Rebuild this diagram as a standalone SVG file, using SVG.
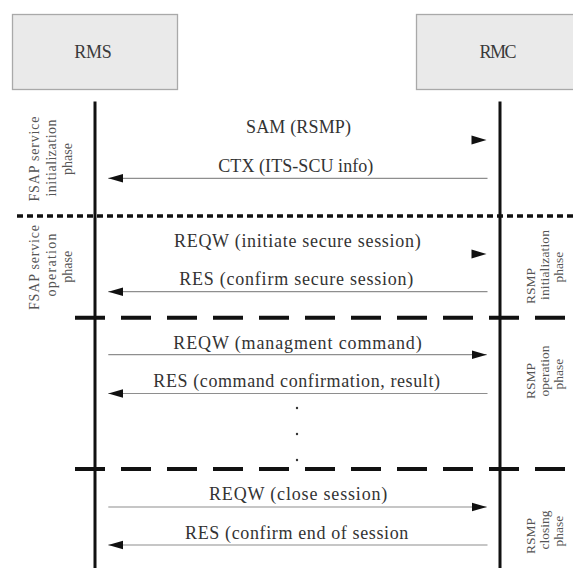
<svg xmlns="http://www.w3.org/2000/svg" width="573" height="568" viewBox="0 0 573 568">
<style>
.box{fill:#eaeaea;stroke:#a9a9a9;stroke-width:1.3}
.title{font-family:"Liberation Serif","Times New Roman",serif;font-size:18px;fill:#3a3a3a}
.msg{font-family:"Liberation Serif","Times New Roman",serif;font-size:18px;fill:#333}
.lbl{font-family:"Liberation Serif","Times New Roman",serif;font-size:14px;fill:#555;text-anchor:middle}
.rlbl{font-family:"Liberation Serif","Times New Roman",serif;font-size:13.5px;fill:#555;text-anchor:middle}
.life{stroke:#111;stroke-width:3;fill:none}
.msgline{stroke:#8e8e8e;stroke-width:1.2;fill:none;marker-end:url(#arr)}
.dotted{stroke:#111;stroke-width:3.5;stroke-dasharray:6 4;fill:none}
.dashed{stroke:#111;stroke-width:4;stroke-dasharray:30 16;fill:none}
</style>
<defs>
<marker id="arr" markerUnits="userSpaceOnUse" markerWidth="16" markerHeight="10" refX="15" refY="5" orient="auto">
<path d="M0,0.6 L15,5 L0,9.4 Z" fill="#111"/>
</marker>
<path id="ah" d="M0,0 L-15,-4.4 L-15,4.4 Z" fill="#111"/>
</defs>
<rect width="573" height="568" fill="#ffffff"/>

<g id="RMS">
<rect class="box" x="12.5" y="14.5" width="165" height="75"/>
<text class="title" x="93" y="58.3" text-anchor="middle" textLength="37.5">RMS</text>
</g>
<g id="RMC">
<rect class="box" x="416.5" y="14.5" width="170" height="75"/>
<text class="title" x="498" y="58.3" text-anchor="middle" textLength="37">RMC</text>
</g>

<g id="lifelines">
<line class="life" x1="95" y1="101.5" x2="95" y2="568"/>
<line class="life" x1="500" y1="101.5" x2="500" y2="568"/>
</g>

<g id="phase-separators">
<line class="dotted" x1="17" y1="216" x2="573" y2="216"/>
<line class="dashed" x1="75" y1="317.7" x2="573" y2="317.7"/>
<line class="dashed" x1="75" y1="469" x2="573" y2="469"/>
</g>

<g id="connectors">
<use href="#ah" x="486.5" y="140"/>
<line class="msgline" x1="487.5" y1="178.3" x2="108.3" y2="178.3"/>
<use href="#ah" x="486.5" y="254"/>
<line class="msgline" x1="487.5" y1="291.7" x2="108.3" y2="291.7"/>
<line class="msgline" x1="108.3" y1="354.7" x2="486.7" y2="354.7"/>
<line class="msgline" x1="487.5" y1="393.5" x2="108.3" y2="393.5"/>
<line class="msgline" x1="108.3" y1="507" x2="486.7" y2="507"/>
<line class="msgline" x1="487.5" y1="545" x2="108.3" y2="545"/>
</g>

<g id="messages">
<text class="msg" x="246" y="133.3" textLength="105">SAM (RSMP)</text>
<text class="msg" x="218.3" y="171.7" textLength="155">CTX (ITS-SCU info)</text>
<text class="msg" x="174" y="247.3" textLength="246.7">REQW (initiate secure session)</text>
<text class="msg" x="179.3" y="285" textLength="234">RES (confirm secure session)</text>
<text class="msg" x="173.3" y="348.7" textLength="248.4">REQW (managment command)</text>
<text class="msg" x="153.3" y="387" textLength="286.7">RES (command confirmation, result)</text>
<text class="msg" x="209" y="500.3" textLength="178.3">REQW (close session)</text>
<text class="msg" x="185" y="538.7" textLength="223.3">RES (confirm end of session</text>
</g>

<g id="continuation-dots" fill="#333">
<circle cx="297" cy="408" r="1.2"/>
<circle cx="297" cy="434" r="1.2"/>
<circle cx="297" cy="460" r="1.2"/>
</g>

<g id="fsap-init-phase">
<text class="lbl" transform="translate(38.5,159) rotate(-90)" textLength="85">FSAP service</text>
<text class="lbl" transform="translate(55.5,158) rotate(-90)" textLength="77">initialization</text>
<text class="lbl" transform="translate(72,159) rotate(-90)">phase</text>
</g>
<g id="fsap-operation-phase">
<text class="lbl" transform="translate(38.5,267.5) rotate(-90)" textLength="85">FSAP service</text>
<text class="lbl" transform="translate(55.5,265) rotate(-90)" textLength="63">operation</text>
<text class="lbl" transform="translate(72,266.7) rotate(-90)">phase</text>
</g>

<g id="rsmp-init-phase">
<text class="rlbl" transform="translate(535,286) rotate(-90)">RSMP</text>
<text class="rlbl" transform="translate(549,265) rotate(-90)" textLength="70">initialization</text>
<text class="rlbl" transform="translate(563,267) rotate(-90)">phase</text>
</g>
<g id="rsmp-operation-phase">
<text class="rlbl" transform="translate(535,381) rotate(-90)">RSMP</text>
<text class="rlbl" transform="translate(549,371) rotate(-90)">operation</text>
<text class="rlbl" transform="translate(563,374) rotate(-90)">phase</text>
</g>
<g id="rsmp-closing-phase">
<text class="rlbl" transform="translate(535,536) rotate(-90)">RSMP</text>
<text class="rlbl" transform="translate(549,530) rotate(-90)">closing</text>
<text class="rlbl" transform="translate(563,531) rotate(-90)">phase</text>
</g>
</svg>
